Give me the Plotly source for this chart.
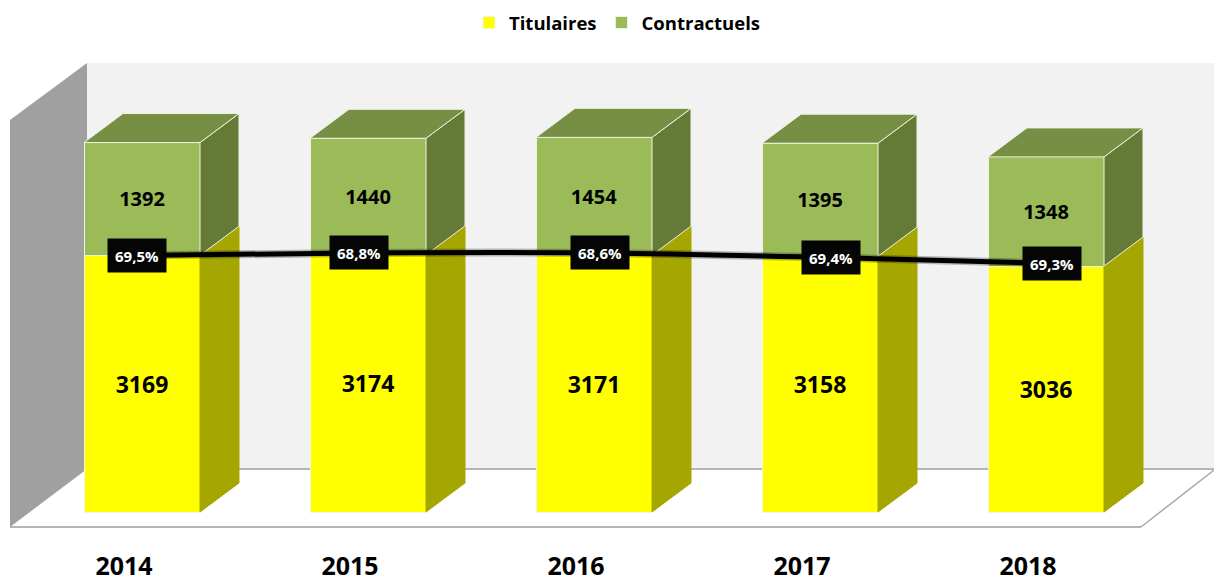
import plotly.graph_objects as go

annees = [2014, 2015, 2016, 2017, 2018]
titulaires = [3169, 3174, 3171, 3158, 3036]
contractuels = [1392, 1440, 1454, 1395, 1348]
part_labels = ["69,5%", "68,8%", "68,6%", "69,4%", "69,3%"]
ligne_hauteur = [3167, 3198, 3198, 3142, 3068]

W, H = 1214, 576
BASE_PX, X0_PX, STEP_PX, PX_PER_UNIT = 512, 142, 226, 0.081
BOTTOM = 530
DX, DY = 39 / STEP_PX, 29 / PX_PER_UNIT
BAR_W = 116 / STEP_PX


def xd(px):
    return annees[0] + (px - X0_PX) / STEP_PX


def yd(py):
    return (BASE_PX - py) / PX_PER_UNIT


def poly(points, fill, line="rgba(0,0,0,0)", width=0):
    path = "M" + "L".join(f"{xd(a)},{yd(b)}" for a, b in points) + "Z"
    return dict(type="path", path=path, xref="x", yref="y", layer="below",
                fillcolor=fill, line=dict(color=line, width=width))


shapes = [
    poly([(87, 63), (1214, 63), (1214, 469), (87, 469)], "#f2f2f2"),
    poly([(10, 527), (87, 469), (1214, 469), (1141, 527)], "#ffffff"),
    poly([(10, 120), (87, 63), (87, 469), (10, 527)], "#a0a0a0"),
    dict(type="line", xref="x", yref="y", layer="below", x0=xd(87), x1=xd(1214), y0=yd(469), y1=yd(469),
         line=dict(color="#b5b5b5", width=2)),
    dict(type="line", xref="x", yref="y", layer="below", x0=xd(10), x1=xd(1141), y0=yd(527), y1=yd(527),
         line=dict(color="#b5b5b5", width=2)),
    dict(type="line", xref="x", yref="y", layer="below", x0=xd(1141), x1=xd(1214), y0=yd(527), y1=yd(470),
         line=dict(color="#a8a8a8", width=1.5)),
]

fig = go.Figure()
fig.add_bar(x=annees, y=titulaires, name="Titulaires", width=BAR_W,
            marker=dict(color="#ffff00", line=dict(color="#f4f4e0", width=1)),
            text=[str(v) for v in titulaires], textposition="inside", insidetextanchor="middle",
            textangle=0, insidetextfont=dict(size=23, color="#000000", family="Open Sans", weight="bold"),
            hoverinfo="skip")
fig.add_bar(x=annees, y=contractuels, name="Contractuels", width=BAR_W,
            marker=dict(color="#9bbb59", line=dict(color="#eef2e0", width=1)),
            text=[str(v) for v in contractuels], textposition="inside", insidetextanchor="middle",
            textangle=0, insidetextfont=dict(size=20, color="#000000", family="Open Sans", weight="bold"),
            hoverinfo="skip")


def face(xs, ys, fill, edge=None):
    fig.add_scatter(x=xs, y=ys, mode="lines", fill="toself", fillcolor=fill,
                    line=dict(color=edge or fill, width=1), showlegend=False, hoverinfo="skip")


for year, t, c in zip(annees, titulaires, contractuels):
    xr = year + BAR_W / 2
    xl = year - BAR_W / 2
    face([xr, xr + DX, xr + DX, xr, xr], [0, DY, t + DY, t, 0], "#a6a600")
    face([xr, xr + DX, xr + DX, xr, xr], [t, t + DY, t + c + DY, t + c, t], "#667a37", "#eef2e0")
    face([xl, xr, xr + DX, xl + DX, xl], [t + c, t + c, t + c + DY, t + c + DY, t + c], "#778f44", "#eef2e0")

label_offset = [-5, -9, 5.5, 10.5, 6]
line_x = [a + o / STEP_PX for a, o in zip(annees, label_offset)]
fig.add_scatter(x=line_x, y=ligne_hauteur, mode="lines",
                line=dict(color="rgba(0,0,0,0.25)", width=8, shape="spline"),
                showlegend=False, hoverinfo="skip")
fig.add_scatter(x=line_x, y=ligne_hauteur, mode="lines", line=dict(color="#000000", width=5, shape="spline"),
                showlegend=False, hoverinfo="skip")

annotations = [
    dict(x=x, y=y, text=f"<b>{t}</b>", showarrow=False, width=56, height=31,
         bgcolor="#050505", font=dict(color="#ffffff", size=15, family="Open Sans"), xanchor="center", yanchor="middle")
    for x, y, t in zip(line_x, ligne_hauteur, part_labels)
]

fig.update_layout(
    width=W, height=H, autosize=False, barmode="stack",
    margin=dict(l=0, r=0, t=0, b=H - BOTTOM, autoexpand=False),
    paper_bgcolor="#ffffff", plot_bgcolor="#ffffff",
    font=dict(family="Open Sans", color="#000000"),
    shapes=shapes, annotations=annotations,
    legend=dict(orientation="h", traceorder="normal", x=469 / W, xanchor="left", y=0.9925, yanchor="top",
                font=dict(size=18.5, weight="bold", family="Open Sans"),
                bgcolor="rgba(0,0,0,0)"),
    xaxis=dict(range=[xd(0), xd(W)], tickmode="array", tickvals=[a - 18 / STEP_PX for a in annees],
               ticktext=[f"<b>{a}</b>" for a in annees], showgrid=False, zeroline=False, showline=False,
               automargin=False,
               ticks="", tickfont=dict(size=25, family="Open Sans", color="#000000"), ticklabelstandoff=19),
    yaxis=dict(range=[yd(BOTTOM), yd(0)], visible=False, showgrid=False, zeroline=False),
)
fig.write_html("out.html", config={"displayModeBar": False},
               post_script="document.body.style.margin='0';document.documentElement.style.overflow='hidden';")
